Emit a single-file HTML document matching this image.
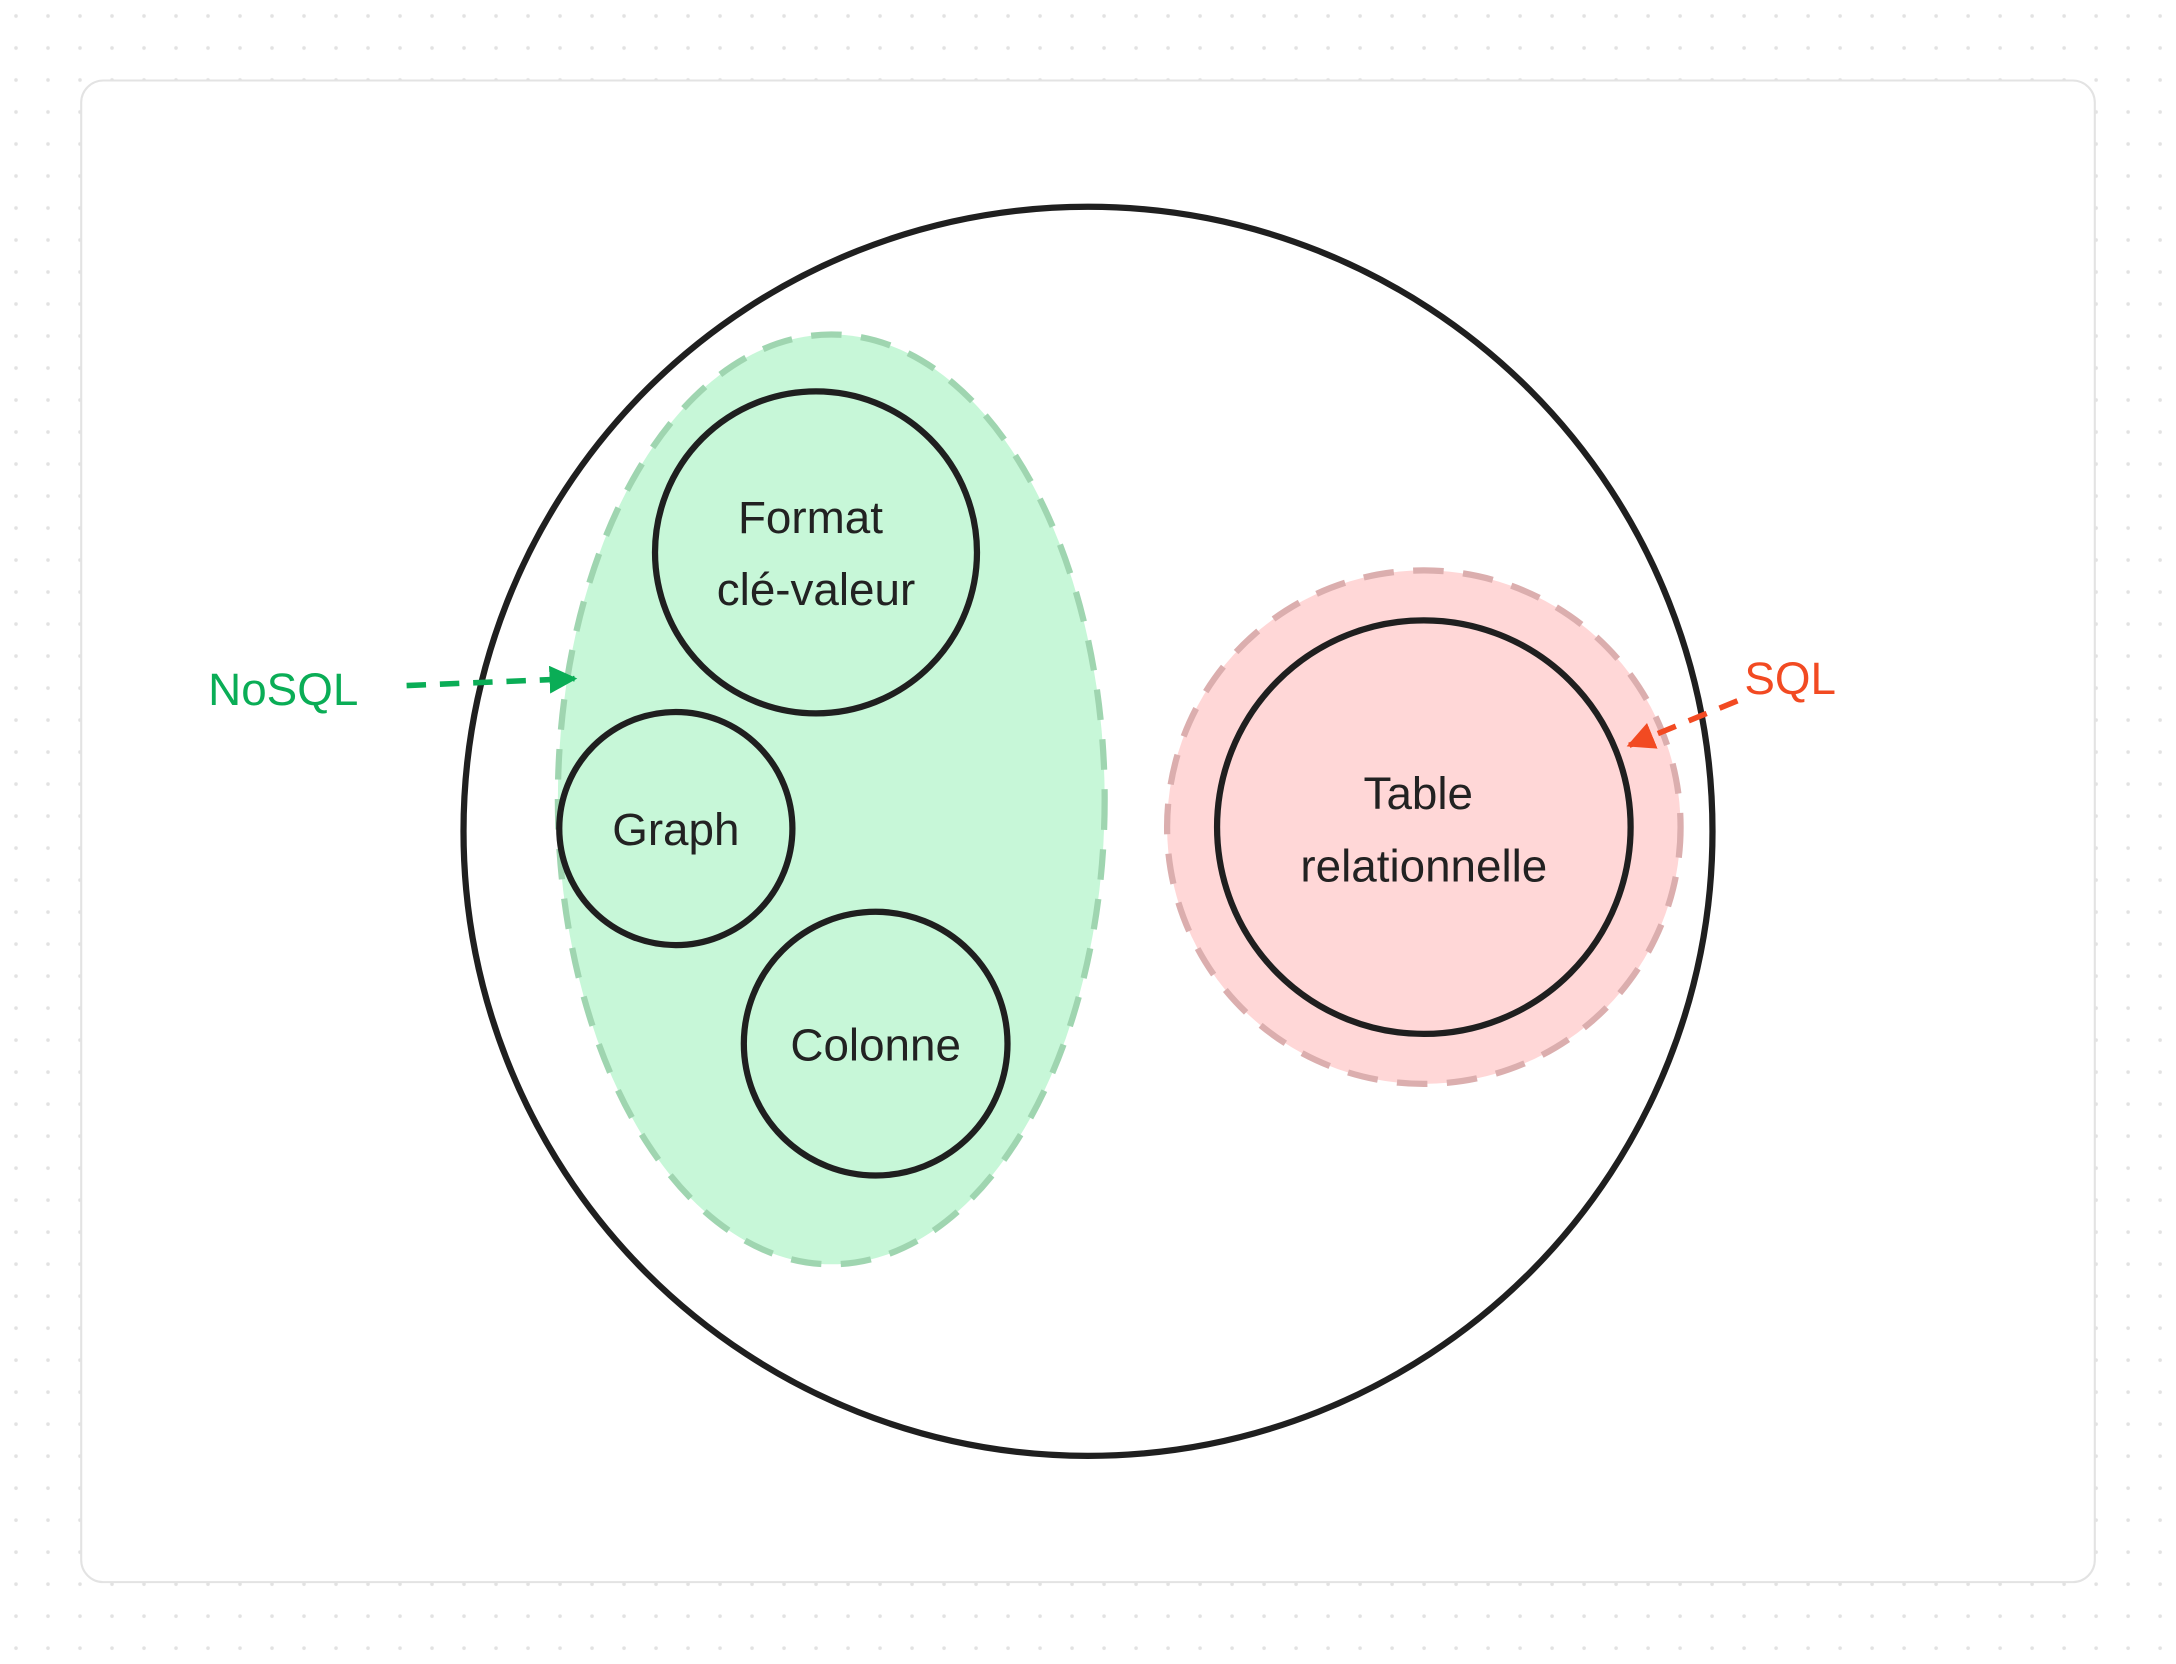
<!DOCTYPE html>
<html><head><meta charset="utf-8"><style>html,body{margin:0;padding:0;background:#fff}svg{display:block}</style></head><body>
<svg width="2176" height="1664" viewBox="0 0 1568 1199" preserveAspectRatio="none" xmlns="http://www.w3.org/2000/svg" font-family="Liberation Sans, sans-serif">
<defs>
<pattern id="d" width="23.06" height="23.06" patternUnits="userSpaceOnUse" x="0" y="0"><circle cx="11.53" cy="11.53" r="1.3" fill="#e2e2e2"/></pattern>
<marker id="ag" viewBox="0 0 10 10" refX="9" refY="5" markerWidth="5" markerHeight="5" orient="auto"><path d="M0,0L10,5L0,10z" fill="#0aad56"/></marker>
<marker id="ar" viewBox="0 0 10 10" refX="9" refY="5" markerWidth="5" markerHeight="5" orient="auto"><path d="M0,0L10,5L0,10z" fill="#f24a22"/></marker>
</defs>
<rect width="1568" height="1199" fill="url(#d)"/>
<rect x="58.5" y="58" width="1451" height="1082" rx="16" fill="#fff" stroke="#e3e3e3" stroke-width="1.5"/>
<circle cx="784" cy="599" r="450" fill="#fff" stroke="#1f1f1f" stroke-width="4.5"/>
<ellipse cx="599" cy="576" rx="197" ry="335" fill="#c7f7d8" stroke="#9fd5b0" stroke-width="4.5" stroke-dasharray="22 14"/>
<circle cx="588" cy="398" r="116" fill="#c7f7d8" stroke="#1f1f1f" stroke-width="4.5"/>
<circle cx="487" cy="597" r="84" fill="#c7f7d8" stroke="#1f1f1f" stroke-width="4.5"/>
<circle cx="631" cy="752" r="95" fill="#c7f7d8" stroke="#1f1f1f" stroke-width="4.5"/>
<circle cx="1026" cy="596" r="185" fill="#ffd7d7" stroke="#dbaeae" stroke-width="4.5" stroke-dasharray="22 14"/>
<circle cx="1026" cy="596" r="149" fill="#ffd7d7" stroke="#1f1f1f" stroke-width="4.5"/>
<g font-size="33" fill="#222" text-anchor="middle">
<text x="584" y="384">Format</text>
<text x="588" y="436">clé-valeur</text>
<text x="487" y="609">Graph</text>
<text x="631" y="764">Colonne</text>
<text x="1022" y="583">Table</text>
<text x="1026" y="635">relationnelle</text>
</g>
<text x="150" y="508" font-size="33" fill="#0aad56">NoSQL</text>
<text x="1257" y="500" font-size="33" fill="#f24a22">SQL</text>
<line x1="293" y1="494" x2="414" y2="489" stroke="#0aad56" stroke-width="4" stroke-dasharray="14 10" marker-end="url(#ag)"/>
<line x1="1252" y1="505" x2="1174" y2="537" stroke="#f24a22" stroke-width="4" stroke-dasharray="14 10" marker-end="url(#ar)"/>
</svg>
</body></html>
